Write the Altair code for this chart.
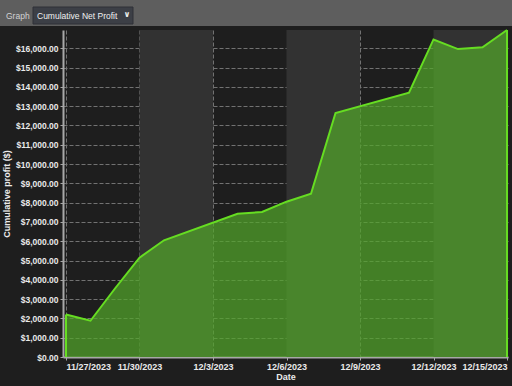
import altair as alt
import pandas as pd

# ---- data ----
dates = ["2023-11-27", "2023-11-28", "2023-11-29", "2023-11-30", "2023-12-01",
         "2023-12-04", "2023-12-05", "2023-12-06", "2023-12-07", "2023-12-08",
         "2023-12-11", "2023-12-12", "2023-12-13", "2023-12-14", "2023-12-15"]
profit = [2200, 1880, 3550, 5150, 6050,
          7420, 7520, 8050, 8460, 12650,
          13700, 16460, 15960, 16050, 16950]
tick_days = [0, 3, 6, 9, 12, 15, 18]
tick_labels = ["11/27/2023", "11/30/2023", "12/3/2023", "12/6/2023",
               "12/9/2023", "12/12/2023", "12/15/2023"]
band_starts = [3, 9, 15]
y_ticks = [0, 1000, 2000, 3000, 4000, 5000, 6000, 7000, 8000,
           9000, 10000, 11000, 12000, 13000, 14000, 15000, 16000]

start = pd.Timestamp(dates[0])
df = pd.DataFrame({"date": dates, "profit": profit})
df["day"] = (pd.to_datetime(df["date"]) - start).dt.days
edges = df.iloc[[0, len(df) - 1]].copy()
bands = pd.DataFrame({"x0": band_starts, "x1": [b + 3 for b in band_starts]})
one = pd.DataFrame({"k": [0]})

W, H = 445, 327
PL, PT = 63, 30
FONT = "Liberation Sans"

label_expr = ""
for d, l in zip(tick_days, tick_labels):
    label_expr += f"datum.value == {d} ? '{l}' : "
label_expr += "''"
align_expr = (f"datum.value == {tick_days[0]} ? 'left' : "
              f"datum.value == {tick_days[-1]} ? 'right' : 'center'")

xscale = alt.Scale(domain=[-0.122, 18.04], nice=False, zero=False)
yscale = alt.Scale(domain=[0, 16950], nice=False, zero=True)

xaxis = alt.Axis(values=tick_days, labelExpr=label_expr, labelAlign=alt.ExprRef(expr=align_expr),
                 title="Date", grid=True, gridDash=[4, 2], gridColor="#727272", gridWidth=1,
                 domainColor="#a8a8a8", domainWidth=2, tickColor="#a8a8a8", tickSize=3,
                 labelColor="#eaeaea", labelFont=FONT, labelFontSize=9, labelFontWeight="bold",
                 labelPadding=2, labelOverlap=False, titleColor="#eaeaea", titleFont=FONT,
                 titleFontSize=9, titleFontWeight="bold", titlePadding=1)
yaxis = alt.Axis(values=y_ticks, tickCount=17, format="$,.2f", title="Cumulative profit ($)",
                 grid=True, gridDash=[4, 2], gridColor="#727272", gridWidth=1,
                 domainColor="#a8a8a8", domainWidth=2, tickColor="#a8a8a8", tickSize=3,
                 labelColor="#eaeaea", labelFont=FONT, labelFontSize=8.5, labelFontWeight="bold",
                 labelPadding=2, labelOverlap=False, labelBound=False,
                 titleColor="#eaeaea", titleFont=FONT, titleFontSize=9,
                 titleFontWeight="bold", titlePadding=4)

band_layer = alt.Chart(bands).mark_rect(color="#323232").encode(
    x=alt.X("x0:Q", scale=xscale, axis=xaxis),
    x2="x1:Q",
    y=alt.value(0), y2=alt.value(H),
)

area = alt.Chart(df).mark_area(
    color="#52a52a", opacity=0.72,
    line={"color": "#66dd22", "strokeWidth": 2},
).encode(
    x=alt.X("day:Q", scale=xscale, axis=xaxis),
    y=alt.Y("profit:Q", scale=yscale, axis=yaxis),
)

edge_rules = alt.Chart(edges).mark_rule(color="#66dd22", strokeWidth=2).encode(
    x=alt.X("day:Q", scale=xscale, axis=xaxis),
    y=alt.Y("profit:Q", scale=yscale, axis=yaxis),
    y2=alt.datum(0),
)

# header bar
bar = alt.Chart(one).mark_rect(color="#5e5e5e").encode(
    x=alt.value(-PL), x2=alt.value(W + 10), y=alt.value(-PT), y2=alt.value(-4))
box = alt.Chart(one).mark_rect(color="#3c3f46", stroke="#2e3036", strokeWidth=1).encode(
    x=alt.value(33 - PL), x2=alt.value(133 - PL), y=alt.value(7 - PT), y2=alt.value(24 - PT))
graph_txt = alt.Chart(one).mark_text(text="Graph", color="#d2d2d2", font=FONT, fontSize=8.5,
                                     align="left", baseline="middle").encode(
    x=alt.value(6 - PL), y=alt.value(16 - PT))
box_txt = alt.Chart(one).mark_text(text="Cumulative Net Profit", color="#f0f0f0", font=FONT,
                                   fontSize=8.5, align="left", baseline="middle").encode(
    x=alt.value(37 - PL), y=alt.value(16 - PT))
chev = alt.Chart(one).mark_text(text="∨", color="#f0f0f0", font="DejaVu Sans", fontSize=8,
                                fontWeight="bold", align="center", baseline="middle").encode(
    x=alt.value(127 - PL), y=alt.value(15 - PT))

chart = alt.layer(band_layer, area, edge_rules, bar, box, graph_txt, box_txt, chev).properties(
    width=W, height=H,
    padding={"left": PL, "top": PT, "right": 512 - PL - W, "bottom": 386 - PT - H},
    autosize=alt.AutoSizeParams(type="none"),
    background="#1e1e1e",
).configure_view(fill="#1e1e1e", stroke=None)

chart.save("out.html", embed_options={"renderer": "svg", "actions": False})
